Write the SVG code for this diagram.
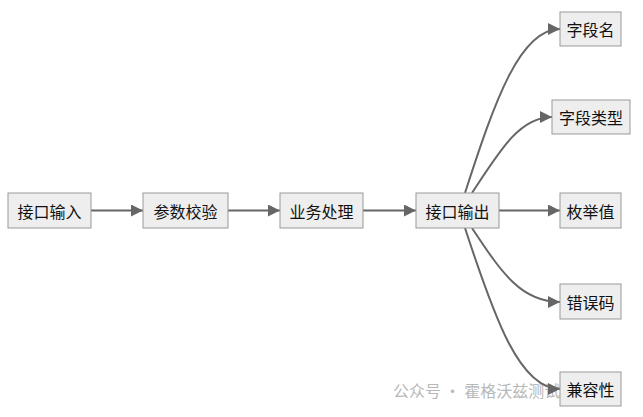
<svg xmlns="http://www.w3.org/2000/svg" width="643" height="417" viewBox="0 0 643 417">
<style>
.n rect{fill:#eeeeee;stroke:#999999;stroke-width:1}
.n text{font-family:"Noto Sans CJK SC","Liberation Sans",sans-serif;font-size:16px;fill:#111;text-anchor:middle;dominant-baseline:central}
.e path{fill:none;stroke:#666666;stroke-width:2}
</style>
<defs><marker id="a" viewBox="0 0 10 10" refX="10" refY="5" markerWidth="6" markerHeight="6" orient="auto" markerUnits="strokeWidth"><path d="M0,0L10,5L0,10z" fill="#666666"/></marker></defs>
<rect width="643" height="417" fill="#fff"/>
<text x="393" y="390" font-family="Noto Sans CJK SC,sans-serif" font-size="16" fill="#b8b8b8" dominant-baseline="central">公众号 · 霍格沃兹测试学院</text>
<g class="e">
<path d="M91,210.5H143" marker-end="url(#a)"/>
<path d="M228,210.5H280" marker-end="url(#a)"/>
<path d="M363,210.5H416" marker-end="url(#a)"/>
<path d="M499,210.5H560" marker-end="url(#a)"/>
<path d="M465,193C495,100 520,29 560,29" marker-end="url(#a)"/>
<path d="M472,193C500,150 520,117 552,117" marker-end="url(#a)"/>
<path d="M472,228C500,270 520,302 560,302" marker-end="url(#a)"/>
<path d="M465,228C495,320 520,389 560,389" marker-end="url(#a)"/>
</g>
<g id="n1" class="n"><rect x="8" y="193" width="83" height="35"/><text x="49.5" y="210.5">接口输入</text></g>
<g id="n2" class="n"><rect x="143" y="193" width="85" height="35"/><text x="185.5" y="210.5">参数校验</text></g>
<g id="n3" class="n"><rect x="280" y="193" width="83" height="35"/><text x="321.5" y="210.5">业务处理</text></g>
<g id="n4" class="n"><rect x="416" y="193" width="83" height="35"/><text x="457.5" y="210.5">接口输出</text></g>
<g id="n5" class="n"><rect x="560" y="12" width="61" height="34"/><text x="590.5" y="29">字段名</text></g>
<g id="n6" class="n"><rect x="552" y="100" width="78" height="34"/><text x="591" y="117">字段类型</text></g>
<g id="n7" class="n"><rect x="560" y="193" width="61" height="35"/><text x="590.5" y="210.5">枚举值</text></g>
<g id="n8" class="n"><rect x="560" y="284" width="61" height="35"/><text x="590.5" y="301.5">错误码</text></g>
<g id="n9" class="n"><rect x="560" y="372" width="61" height="34"/><text x="590.5" y="389">兼容性</text></g>
</svg>
